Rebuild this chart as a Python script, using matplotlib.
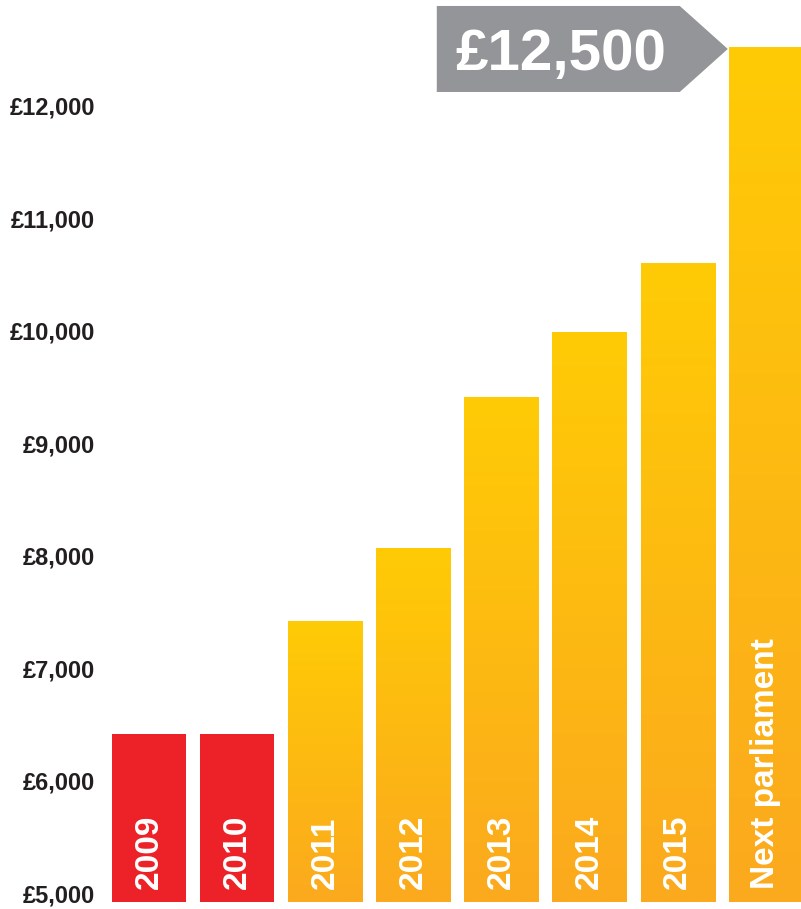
import numpy as np
import matplotlib.pyplot as plt
from matplotlib.patches import Polygon
from matplotlib.colors import LinearSegmentedColormap

# personal allowance by year
years = ['2009', '2010', '2011', '2012', '2013', '2014', '2015', 'Next parliament']
allowance = [6415, 6415, 7420, 8070, 9415, 9990, 10600, 12525]
is_past = [True, True, False, False, False, False, False, False]
ticks = [5000, 6000, 7000, 8000, 9000, 10000, 11000, 12000]
tick_labels = ['£5,000', '£6,000', '£7,000', '£8,000', '£9,000', '£10,000', '£11,000', '£12,000']
callout = '£12,500'

red = '#ED2228'
grad = LinearSegmentedColormap.from_list('yo', ['#FBA91E', '#FFCB05'])
grey = '#939598'
base = 4920

plt.rcParams['font.family'] = ['Liberation Sans', 'DejaVu Sans']

fig = plt.figure(figsize=(8.01, 9.09), dpi=100)
ax = fig.add_axes([105/801, 0, 696/801, 1])
for s in ax.spines.values():
    s.set_visible(False)
ax.set_xticks([])
ax.set_yticks(ticks)
ax.set_yticklabels(tick_labels, fontsize=17, fontweight='bold', color='#231F20')
ax.tick_params(axis='y', length=0, pad=7)

w = 0.84
x = np.arange(len(years))
bars = ax.bar(x, np.array(allowance) - base, bottom=base, width=w,
              color=[red if p else 'none' for p in is_past], linewidth=0)

g = np.linspace(0, 1, 256).reshape(-1, 1)
for b, p in zip(bars, is_past):
    if p:
        continue
    x0 = b.get_x()
    im = ax.imshow(g, cmap=grad, origin='lower', aspect='auto',
                   extent=[x0, x0 + b.get_width(), base, b.get_y() + b.get_height()],
                   zorder=1)
    im.set_clip_path(b)

for xi, lab in zip(x, years):
    ax.text(xi, base + 120, lab, rotation=90, ha='center', va='bottom',
            color='white', fontsize=24, fontweight='bold', zorder=3)

ax.set_xlim(-0.4994, 7.401)
ax.set_ylim(4857.7, 12942.8)

# callout pointing at the last bar
fig.canvas.draw()
tx, ty = ax.transData.transform((x[-1] - w / 2 - 0.01, allowance[-1]))
ty -= 2
off = [(0, 0), (-48, 43), (-291, 43), (-291, -43), (-48, -43)]
poly = Polygon([(tx + a, ty + b) for a, b in off], closed=True, transform=None,
               facecolor=grey, edgecolor='none')
fig.patches.append(poly)
fig.text((tx - 167) / 801, (ty - 21) / 909, callout, ha='center', va='baseline',
         color='white', fontsize=42, fontweight='bold')

fig.savefig('out.png', dpi=100)
